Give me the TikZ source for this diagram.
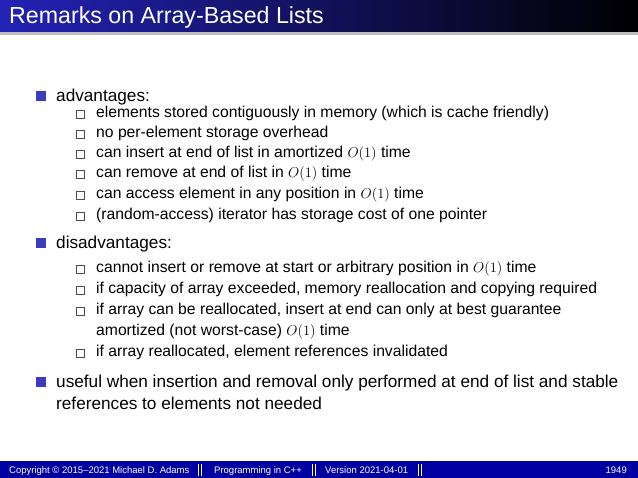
\documentclass[tikz,border=0pt]{standalone}
\usepackage{fontspec}
\setmainfont{Liberation Sans}
\definecolor{bar}{RGB}{0,0,160}
\definecolor{bul}{RGB}{60,60,190}
\begin{document}
\begin{tikzpicture}[x=1pt,y=-1pt,
  top/.style={anchor=base west,inner sep=0,font=\fontsize{17.2}{20}\selectfont},
  sub/.style={anchor=base west,inner sep=0,font=\fontsize{15.7}{18}\selectfont},
  foot/.style={anchor=base west,inner sep=0,font=\fontsize{9.5}{11}\selectfont,text=white}]
\useasboundingbox (0,0) rectangle (638,478);
\shade[left color=bar!85!white!90!blue, right color=black] (0,0) rectangle (638,32);
\fill[black!25] (0,32) rectangle (638,35);
\node[anchor=base west,inner sep=0,text=white,font=\fontsize{23.2}{26}\selectfont] (title) at (9,24) {Remarks on Array-Based Lists};
\fill[bar] (0,461) rectangle (638,478);
\begin{scope}[yshift=-4pt]
\foreach \y in {98,245,384} \fill[bul] (36,\y-11) rectangle (46,\y-1);
\foreach \y in {114,134,154,174,195,216,269,290,311,353}
  \draw[black!70,line width=0.5] (76,\y-7.5) rectangle (84,\y+0.5);
\node[top] (a) at (56,98) {advantages:};
\node[sub] (a1) at (96,114) {elements stored contiguously in memory (which is cache friendly)};
\node[sub] (a2) at (96,134) {no per-element storage overhead};
\node[sub] (a3) at (96,154) {can insert at end of list in amortized $O(1)$ time};
\node[sub] (a4) at (96,174) {can remove at end of list in $O(1)$ time};
\node[sub] (a5) at (96,195) {can access element in any position in $O(1)$ time};
\node[sub] (a6) at (96,216) {(random-access) iterator has storage cost of one pointer};
\node[top] (d) at (56,245) {disadvantages:};
\node[sub] (d1) at (96,269) {cannot insert or remove at start or arbitrary position in $O(1)$ time};
\node[sub] (d2) at (96,290) {if capacity of array exceeded, memory reallocation and copying required};
\node[sub] (d3) at (96,311) {if array can be reallocated, insert at end can only at best guarantee};
\node[sub] (d3b) at (96,332) {amortized (not worst-case) $O(1)$ time};
\node[sub] (d4) at (96,353) {if array reallocated, element references invalidated};
\node[top] (u) at (56,384) {useful when insertion and removal only performed at end of list and stable};
\node[top] (u2) at (56,406) {references to elements not needed};
\end{scope}
\node[foot] (f1) at (9,473.5) {Copyright \copyright\ 2015--2021 Michael D. Adams};
\node[foot] (f2) at (214,473.5) {Programming in C++};
\node[foot] (f3) at (325,473.5) {Version 2021-04-01};
\node[foot,anchor=base east] (f4) at (627,473.5) {1949};
\foreach \x in {200,314,420} {\fill[white] (\x-2.5,464) rectangle (\x-1,476); \fill[white] (\x+0.5,464) rectangle (\x+2,476);}
\end{tikzpicture}
\end{document}
